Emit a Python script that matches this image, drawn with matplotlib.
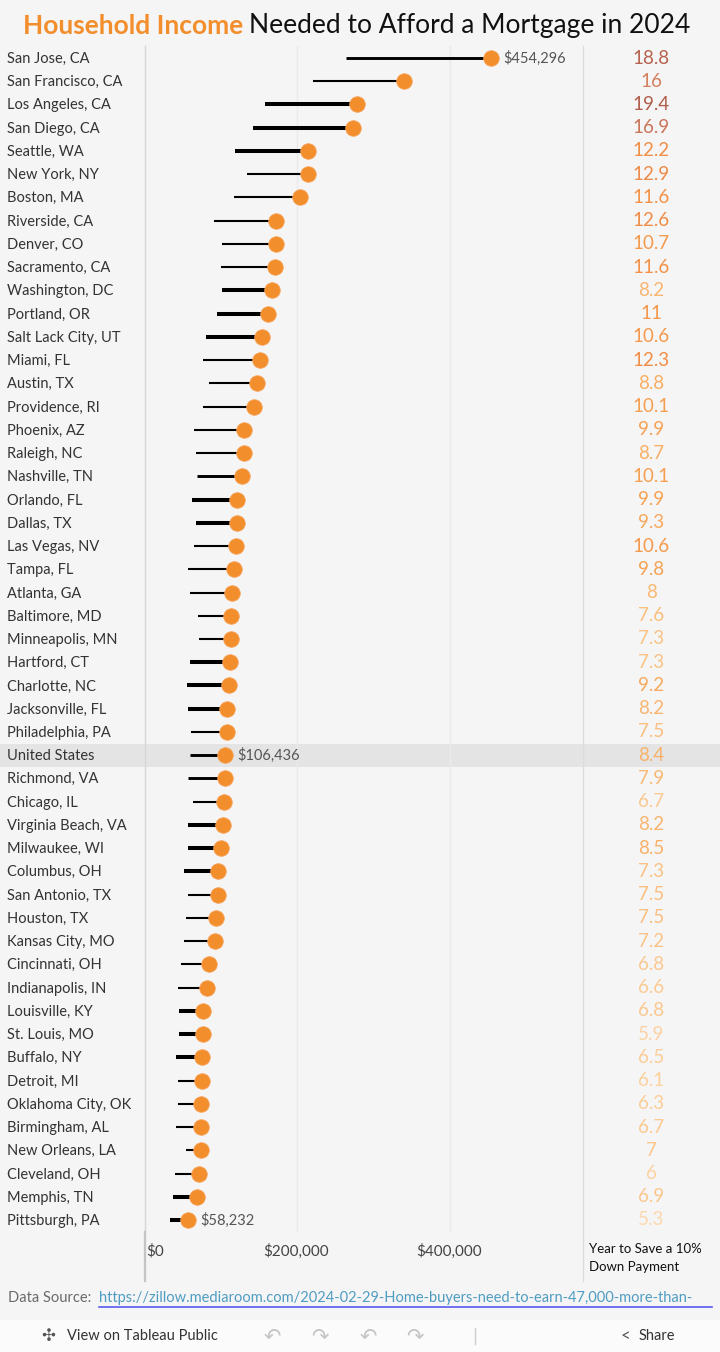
import matplotlib
matplotlib.use("Agg")
import matplotlib.pyplot as plt
from matplotlib.colors import LinearSegmentedColormap, Normalize
from matplotlib.lines import Line2D
from matplotlib.patches import Rectangle
import matplotlib.transforms as mtrans

plt.rcParams['font.family'] = ['Lato', 'DejaVu Sans']

# dados
cidades = ["San Jose, CA", "San Francisco, CA", "Los Angeles, CA", "San Diego, CA",
           "Seattle, WA", "New York, NY", "Boston, MA", "Riverside, CA", "Denver, CO",
           "Sacramento, CA", "Washington, DC", "Portland, OR", "Salt Lack City, UT",
           "Miami, FL", "Austin, TX", "Providence, RI", "Phoenix, AZ", "Raleigh, NC",
           "Nashville, TN", "Orlando, FL", "Dallas, TX", "Las Vegas, NV", "Tampa, FL",
           "Atlanta, GA", "Baltimore, MD", "Minneapolis, MN", "Hartford, CT",
           "Charlotte, NC", "Jacksonville, FL", "Philadelphia, PA", "United States",
           "Richmond, VA", "Chicago, IL", "Virginia Beach, VA", "Milwaukee, WI",
           "Columbus, OH", "San Antonio, TX", "Houston, TX", "Kansas City, MO",
           "Cincinnati, OH", "Indianapolis, IN", "Louisville, KY", "St. Louis, MO",
           "Buffalo, NY", "Detroit, MI", "Oklahoma City, OK", "Birmingham, AL",
           "New Orleans, LA", "Cleveland, OH", "Memphis, TN", "Pittsburgh, PA"]

renda_necessaria = [454296, 340500, 279100, 273900, 214400, 215000, 204600, 173600,
                    173200, 172300, 167600, 162700, 154900, 151900, 148800, 144200,
                    131800, 131000, 128800, 122200, 122000, 120900, 117900, 116100,
                    114000, 113800, 113600, 111400, 109500, 109200, 106436, 106000,
                    104800, 103500, 101300, 97000, 96800, 95200, 93900, 86000, 82600,
                    78200, 78000, 76500, 76300, 75200, 75000, 74800, 72200, 70300, 58232]

renda_inicio = [264700, 221600, 158800, 143100, 119600, 135300, 118300, 92200, 102600,
                101300, 102600, 96100, 81700, 77800, 85600, 77800, 66000, 68600, 69900,
                63400, 68600, 66000, 58200, 60800, 71200, 72500, 60800, 56900, 58200,
                62100, 60800, 58200, 64700, 58200, 58200, 52900, 58200, 55600, 52900,
                49000, 45100, 46400, 46400, 42500, 45100, 45100, 42500, 55600, 41200,
                38600, 34600]

espessura = [2, 1, 3, 3, 3, 1, 1, 1, 1, 1, 3, 3, 3, 1, 1, 1, 1, 1, 2, 3, 3, 1, 1, 1,
             1, 1, 3, 3, 3, 1, 2, 2, 1, 3, 3, 3, 1, 1, 1, 1, 1, 3, 3, 3, 1, 1, 1, 1,
             1, 3, 3]

anos = [18.8, 16, 19.4, 16.9, 12.2, 12.9, 11.6, 12.6, 10.7, 11.6, 8.2, 11, 10.6, 12.3,
        8.8, 10.1, 9.9, 8.7, 10.1, 9.9, 9.3, 10.6, 9.8, 8, 7.6, 7.3, 7.3, 9.2, 8.2, 7.5,
        8.4, 7.9, 6.7, 8.2, 8.5, 7.3, 7.5, 7.5, 7.2, 6.8, 6.6, 6.8, 5.9, 6.5, 6.1, 6.3,
        6.7, 7, 6, 6.9, 5.3]

ticks_x = [0, 200000, 400000]

W, H = 720, 1352
fx = lambda x: x / W
fy = lambda y: 1 - y / H

fig = plt.figure(figsize=(7.2, 13.52), dpi=100, facecolor='#f5f5f5')

topo, base = 46.4, 1231.6
ax = fig.add_axes([fx(143.5), fy(base), fx(583) - fx(143.5), (base - topo) / H])
ax2 = fig.add_axes([fx(583), fy(base), fx(720) - fx(583), (base - topo) / H])
for a in (ax, ax2):
    a.set_facecolor('none')
    a.set_ylim(len(cidades) - 0.5, -0.5)
    a.axis('off')
ax.set_xlim(0, (583 - 143.5) / 0.000765)
ax2.set_xlim(0, 1)

# faixa do "United States"
i_us = cidades.index("United States")
tr_linha = mtrans.blended_transform_factory(fig.transFigure, ax.transData)
ax.add_patch(Rectangle((0, i_us - 0.5), 1, 1, transform=tr_linha, facecolor='#e4e4e4',
                       edgecolor='none', clip_on=False, zorder=0))

for t in ticks_x[1:]:
    ax.axvline(t, color='#eaeaea', lw=1, zorder=1)

larguras = {1: 1.5, 2: 2.1, 3: 2.9}
for i in range(len(cidades)):
    ax.plot([renda_inicio[i], renda_necessaria[i]], [i, i], color='black',
            lw=larguras[espessura[i]], solid_capstyle='butt', zorder=2)
ax.scatter(renda_necessaria, range(len(cidades)), s=125, color='#f28e2b',
           edgecolor='#f6a35a', linewidth=0.6, zorder=3)

# rotulos do maior, EUA e menor
for i in [0, i_us, len(cidades) - 1]:
    ax.annotate('${:,.0f}'.format(renda_necessaria[i]), (renda_necessaria[i], i),
                xytext=(9, 0), textcoords='offset points', va='center', ha='left',
                fontsize=10.5, color='#555555')

# nomes das cidades
for i, c in enumerate(cidades):
    fig.text(fx(7), i + 0.04, c, transform=tr_linha, va='center', ha='left',
             fontsize=10.5, color='#333333')

# coluna de anos
cores = LinearSegmentedColormap.from_list('anos', [
    (0.0, '#fdd8ad'), (0.12, '#fbc68b'), (0.23, '#f8b066'), (0.37, '#f59a4c'),
    (0.51, '#f18c45'), (0.76, '#d57e5e'), (1.0, '#b05d4b')])
norma = Normalize(min(anos), max(anos))
for i, v in enumerate(anos):
    ax2.text(0.497, i, '{:g}'.format(v), ha='center', va='center', fontsize=13.5,
             color=cores(norma(v)))

# linhas de separacao
fig.add_artist(Line2D([fx(145)] * 2, [fy(46), fy(1232)], color='#d6d6d6', lw=1))
fig.add_artist(Line2D([fx(145)] * 2, [fy(1232), fy(1281)], color='#c4c4c4', lw=1.6))
fig.add_artist(Line2D([fx(583)] * 2, [fy(46), fy(1281)], color='#dcdcdc', lw=1))

# eixo x
tr_eixo = mtrans.blended_transform_factory(ax.transData, fig.transFigure)
fig.text(fx(146), fy(1251), '$0', ha='left', va='center', fontsize=11, color='#444444')
for t in ticks_x[1:]:
    ax.text(t, fy(1251), '${:,.0f}'.format(t), transform=tr_eixo, ha='center',
            va='center', fontsize=11, color='#444444')
fig.text(fx(589), fy(1249), 'Year to Save a 10%', ha='left', va='center', fontsize=9.5,
         color='#111111')
fig.text(fx(589), fy(1267), 'Down Payment', ha='left', va='center', fontsize=9.5,
         color='#111111')

# titulo
fig.text(fx(243), fy(26), 'Household Income', ha='right', va='center', fontsize=19,
         fontweight='bold', color='#f28e2b')
fig.text(fx(249), fy(26), 'Needed to Afford a Mortgage in 2024', ha='left', va='center',
         fontsize=19, color='#111111')

# fonte dos dados
fig.text(fx(8), fy(1298), 'Data Source:', ha='left', va='center', fontsize=10.5,
         color='#6a6a6a')
fig.text(fx(99), fy(1298),
         'https://zillow.mediaroom.com/2024-02-29-Home-buyers-need-to-earn-47,000-more-than-',
         ha='left', va='center', fontsize=10.5, color='#4f9cc2')
fig.add_artist(Line2D([fx(99), fx(712)], [fy(1307), fy(1307)], color='#5a5af0', lw=1.2))

# barra de ferramentas do Tableau
fig.add_artist(Rectangle((0, 0), 1, fy(1320), transform=fig.transFigure,
                         facecolor='#fbfbfb', edgecolor='none'))
fig.text(fx(48), fy(1336), '✣', ha='center', va='center', fontsize=12, color='#555555',
         family=['DejaVu Sans'])
fig.text(fx(67), fy(1336), 'View on Tableau Public', ha='left', va='center',
         fontsize=10.5, color='#333333')
for x, g in [(272, '↶'), (320, '↷'), (368, '↶'), (415, '↷')]:
    fig.text(fx(x), fy(1336), g, ha='center', va='center', fontsize=15, color='#c4c4c4',
             family=['DejaVu Sans'])
fig.add_artist(Line2D([fx(475)] * 2, [fy(1328), fy(1344)], color='#cccccc', lw=1))
fig.text(fx(625), fy(1336), '<', ha='center', va='center', fontsize=12, color='#555555')
fig.text(fx(639), fy(1336), 'Share', ha='left', va='center', fontsize=10.5,
         color='#333333')

fig.savefig('out.png', dpi=100, facecolor=fig.get_facecolor())
